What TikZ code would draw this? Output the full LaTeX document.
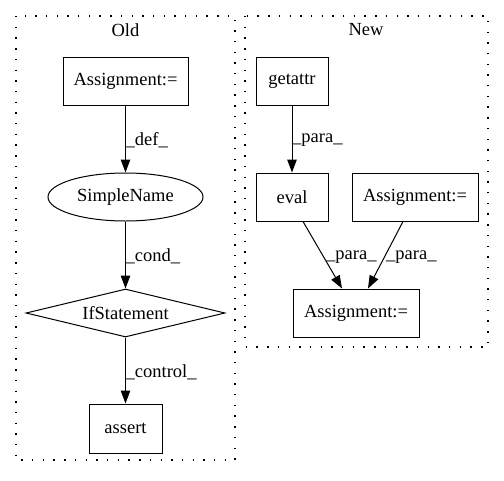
\documentclass[tikz,border=0pt]{standalone}
\usepackage{fontspec}
\setmainfont{Liberation Serif}
\usetikzlibrary{shapes.geometric,arrows.meta}
\begin{document}
\begin{tikzpicture}[x=1pt,y=-1pt,
  every node/.style={font=\fontsize{18.5pt}{21pt}\selectfont},
  box/.style={draw,line width=1pt,rectangle,inner sep=0pt},
  cluster/.style={draw,line width=1.4pt,dash pattern=on 1.4pt off 9.3pt},
  edge/.style={draw,line width=1pt,-{Triangle[length=13pt,width=9.5pt]}},
  elabel/.style={anchor=west,inner sep=0pt}]
\useasboundingbox (0,0) rectangle (504,480);
% clusters
\draw[cluster] (16,16) rectangle (235,460);
\node (oldlbl) at (125.5,30) {Old};
\draw[cluster] (245,16) rectangle (488,347);
\node (newlbl) at (366,30) {New};
% Old nodes
\node[box,minimum width=125pt,minimum height=48pt] (oa) at (125.5,81) {Assignment:=};
\node[draw,line width=1pt,ellipse,minimum width=155pt,minimum height=48pt,inner sep=0pt] (sn) at (125.5,197) {SimpleName};
\node[draw,line width=1pt,diamond,aspect=4.15,minimum width=199pt,minimum height=48pt,inner sep=0pt] (ifs) at (125.5,313) {IfStatement};
\node[box,minimum width=73pt,minimum height=49pt] (as) at (125.5,428.5) {assert};
% New nodes
\node[box,minimum width=72pt,minimum height=48pt] (ga) at (292,81) {getattr};
\node[box,minimum width=72pt,minimum height=48pt] (ev) at (292,197) {eval};
\node[box,minimum width=126pt,minimum height=48pt] (na) at (415,197) {Assignment:=};
\node[box,minimum width=126pt,minimum height=48pt] (nb) at (356,313) {Assignment:=};
% edges
\draw[edge] (oa) -- (sn);
\node[elabel] (l1) at (125.5,140) {\_def\_};
\draw[edge] (sn) -- (ifs);
\node[elabel] (l2) at (125.5,256) {\_cond\_};
\draw[edge] (ifs) -- (as);
\node[elabel] (l3) at (125.5,372) {\_control\_};
\draw[edge] (ga) -- (ev);
\node[elabel] (l4) at (292,140) {\_para\_};
\draw[edge] (ev.south) ++(11,0) coordinate (evs) (evs) -- (nb.north -| 342,0);
\draw[edge] (na.south) ++(-12,0) coordinate (nas) (nas) -- (nb.north -| 368,0);
\node[elabel] (l5) at (326,257) {\_para\_};
\node[elabel] (l6) at (386,257) {\_para\_};
\end{tikzpicture}
\end{document}
